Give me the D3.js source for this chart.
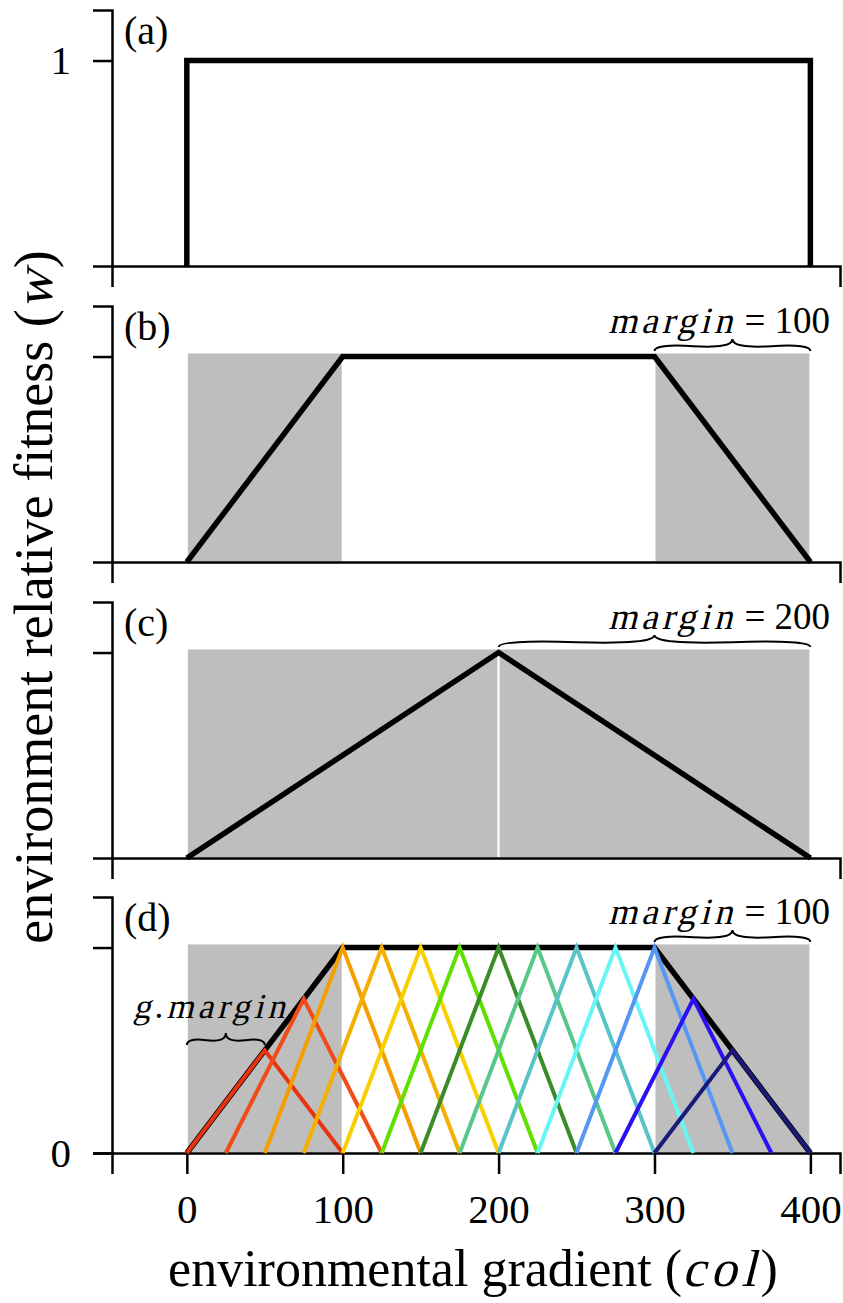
<!DOCTYPE html>
<html>
<head>
<meta charset="utf-8">
<script src="https://d3js.org/d3.v7.min.js"></script>
<style>
  body { margin: 0; background: #fff; }
  text { font-family: "Liberation Serif", "Times New Roman", serif; }
</style>
</head>
<body>
<script>
/* data */
var xTicks = [0, 100, 200, 300, 400];
var panelNames = ["(a)", "(b)", "(c)", "(d)"];

// environment relative fitness envelopes, [col, w]
var envelopeA = [[0, 0], [0, 1], [400, 1], [400, 0]];
var envelopeB = [[0, 0], [100, 1], [300, 1], [400, 0]];
var envelopeC = [[0, 0], [200, 1], [400, 0]];
var envelopeD = [[0, 0], [100, 1], [300, 1], [400, 0]];

// grey margin bands, [from, to]
var shadeB = [[0, 100], [300, 400]];
var shadeC = [[0, 200], [200, 400]];
var shadeD = [[0, 100], [300, 400]];
var shadeTop = 1.02;

// margin braces
var braceB = [300, 400, "100"];
var braceC = [200, 400, "200"];
var braceD = [300, 400, "100"];
var gMargin = 50;

// genotype fitness tents in panel (d)
var tentCenters = [50, 75, 100, 125, 150, 175, 200, 225, 250, 275, 300, 325, 350];
var tentPeaks   = [0.5, 0.75, 1, 1, 1, 1, 1, 1, 1, 1, 1, 0.75, 0.5];
var tentColors  = ["#e8340e", "#f04c16", "#f59e00", "#f4b000", "#f8d000", "#5fe000",
                   "#3a8c28", "#58c888", "#58c4c8", "#66f6f6", "#5598f4", "#2a10f2", "#1c1a78"];

/* layout */
var width = 843, height = 1303;
var panelBottoms = [266, 562, 858, 1153];
var panelHeight = 256;

var svg = d3.select("body").append("svg")
    .attr("width", width)
    .attr("height", height);

var xScale = d3.scaleLinear().domain([-48, 419]).range([112, 840]);

function makeY(bottom) {
    return d3.scaleLinear().domain([0, 1.246]).range([bottom, bottom - panelHeight]);
}

/* text made of pieces; no serif italic is installed, so italic pieces are skewed */
function richText(parent, x, y, anchor, size, parts, rot) {
    var outer = parent.append("g")
        .attr("transform", "translate(" + x + "," + y + ")" + (rot ? " rotate(" + rot + ")" : ""));
    var inner = outer.append("g");
    var cx = 0;
    parts.forEach(function(p) {
        var t = inner.append("text")
            .attr("font-size", size)
            .attr("letter-spacing", p.ls || 0)
            .attr("fill", "#000")
            .text(p.t);
        t.attr("transform", "translate(" + cx + ",0)" + (p.it ? " skewX(-14)" : ""));
        cx += t.node().getComputedTextLength() + (p.gap || 0);
    });
    var shift = anchor === "end" ? -cx : anchor === "middle" ? -cx / 2 : 0;
    inner.attr("transform", "translate(" + shift + ",0)");
    return outer;
}

// curly brace pointing up, between (x1,y) and (x2,y)
function bracePath(x1, x2, y, w, q) {
    var ax = x2, ay = y, bx = x1, by = y;
    var dx = ax - bx, dy = ay - by, len = Math.sqrt(dx * dx + dy * dy);
    dx = dx / len; dy = dy / len;
    var qx1 = ax + q * w * dy, qy1 = ay - q * w * dx;
    var qx2 = (ax - .25 * len * dx) + (1 - q) * w * dy, qy2 = (ay - .25 * len * dy) - (1 - q) * w * dx;
    var tx1 = (ax - .5 * len * dx) + w * dy, ty1 = (ay - .5 * len * dy) - w * dx;
    var qx3 = bx + q * w * dy, qy3 = by - q * w * dx;
    var qx4 = (ax - .75 * len * dx) + (1 - q) * w * dy, qy4 = (ay - .75 * len * dy) - (1 - q) * w * dx;
    return "M" + ax + "," + ay + " Q" + qx1 + "," + qy1 + " " + qx2 + "," + qy2 + " T" + tx1 + "," + ty1 +
           " M" + bx + "," + by + " Q" + qx3 + "," + qy3 + " " + qx4 + "," + qy4 + " T" + tx1 + "," + ty1;
}

function drawPanel(i, envelope, shade, brace) {
    var y = makeY(panelBottoms[i]);
    var g = svg.append("g").attr("class", "panel");

    /* grey bands */
    if (shade) {
        g.selectAll("rect.band").data(shade).enter()
            .append("rect")
            .attr("class", "band")
            .attr("x", function(d) { return xScale(d[0]); })
            .attr("width", function(d) { return xScale(d[1]) - xScale(d[0]); })
            .attr("y", y(shadeTop))
            .attr("height", y(0) - y(shadeTop))
            .attr("fill", "#bebebe")
            .attr("stroke", "#fff")
            .attr("stroke-width", 2);
    }

    /* axes */
    var yAxis = d3.axisLeft(y).tickSizeOuter(0).tickSize(19).tickPadding(22);
    if (i === 0) yAxis.tickValues([1]).tickFormat(function() { return "1"; });
    else if (i === 3) yAxis.tickValues([0, 1]).tickFormat(function(d) { return d === 0 ? "0" : ""; });
    else yAxis.tickValues([1]).tickFormat(function() { return ""; });

    var yG = g.append("g")
        .attr("transform", "translate(" + xScale.range()[0] + ",0)")
        .call(yAxis);

    var xAxis = d3.axisBottom(xScale).tickSizeOuter(0).tickSize(21).tickPadding(20);
    if (i === 3) xAxis.tickValues(xTicks).tickFormat(d3.format("d"));
    else xAxis.tickValues([]);

    var xG = g.append("g")
        .attr("transform", "translate(0," + y(0) + ")")
        .call(xAxis);

    [yG, xG].forEach(function(a) {
        a.selectAll("path, line").attr("stroke", "#000").attr("stroke-width", 2.5);
        a.selectAll("text")
            .attr("font-family", "Liberation Serif, serif")
            .attr("font-size", 41)
            .attr("fill", "#000");
    });

    /* envelope */
    var line = d3.line()
        .x(function(d) { return xScale(d[0]); })
        .y(function(d) { return y(d[1]); });

    g.append("path")
        .datum(envelope)
        .attr("fill", "none")
        .attr("stroke", "#000")
        .attr("stroke-width", 5.5)
        .attr("stroke-linejoin", "miter")
        .attr("d", line);

    /* brace + margin label */
    if (brace) {
        var by = y(0) - 211;
        g.append("path")
            .attr("d", bracePath(xScale(brace[0]), xScale(brace[1]), by, 12, 0.6))
            .attr("fill", "none")
            .attr("stroke", "#000")
            .attr("stroke-width", 2);
        richText(g, 830, y(0) - 229, "end", 37,
            [{ t: "margin", it: true, ls: 4, gap: 8 }, { t: "= " + brace[2] }]);
    }

    /* panel letter */
    g.append("text")
        .attr("x", 124)
        .attr("y", panelBottoms[i] - panelHeight + 34)
        .attr("font-size", 40)
        .text(panelNames[i]);

    return { g: g, y: y, line: line };
}

drawPanel(0, envelopeA, null, null);
drawPanel(1, envelopeB, shadeB, braceB);
drawPanel(2, envelopeC, shadeC, braceC);
var pd = drawPanel(3, envelopeD, shadeD, braceD);

/* genotype tents in (d) */
var tents = tentCenters.map(function(c, k) {
    return { color: tentColors[k], pts: [[c - gMargin, 0], [c, tentPeaks[k]], [c + gMargin, 0]] };
});

pd.g.selectAll("path.tent").data(tents).enter()
    .append("path")
    .attr("class", "tent")
    .attr("fill", "none")
    .attr("stroke", function(d) { return d.color; })
    .attr("stroke-width", 4)
    .attr("d", function(d) { return pd.line(d.pts); });

/* g.margin brace */
var gy = pd.y(0) - 108;
pd.g.append("path")
    .attr("d", bracePath(xScale(0), xScale(gMargin), gy, 12, 0.6))
    .attr("fill", "none")
    .attr("stroke", "#000")
    .attr("stroke-width", 2);

richText(pd.g, 133, pd.y(0) - 135, "start", 35,
    [{ t: "g", it: true, ls: 4 }, { t: ".", ls: 3 }, { t: "margin", it: true, ls: 4 }]);

/* axis titles */
richText(svg, 52, 597, "middle", 54,
    [{ t: "environment relative fitness (" }, { t: "w", it: true, ls: 2 }, { t: ")" }], -90);

richText(svg, 473, 1286, "middle", 52,
    [{ t: "environmental gradient (" }, { t: "col", it: true, ls: 5 }, { t: ")" }]);
</script>
</body>
</html>
